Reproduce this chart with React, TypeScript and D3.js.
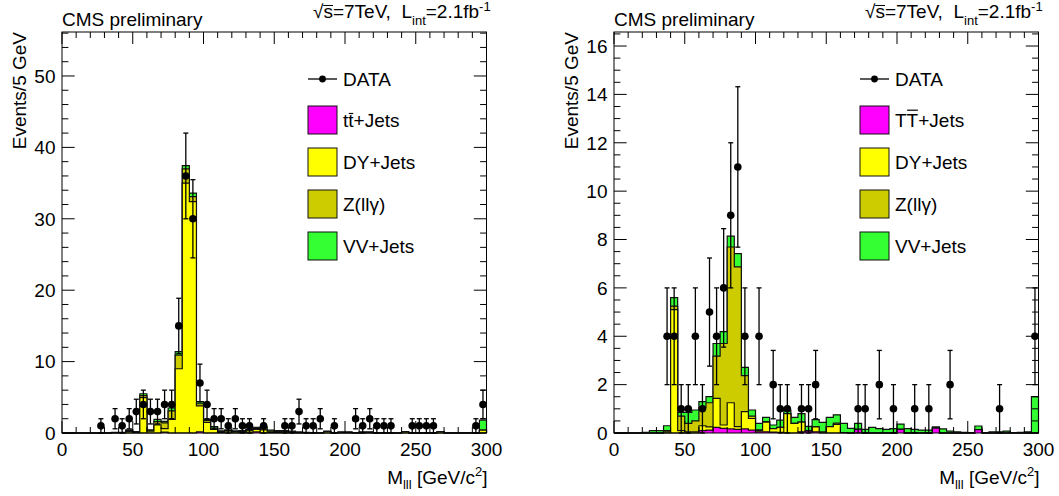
import React from 'react';
import * as d3 from 'd3';

// ---------- data ----------
const binEdges = [
  0, 5, 10, 15, 20, 25, 30, 35, 40, 45, 50, 55, 60, 65, 70, 75, 80, 85, 90, 95,
  100, 105, 110, 115, 120, 125, 130, 135, 140, 145, 150, 155, 160, 165, 170, 175, 180, 185, 190, 195,
  200, 205, 210, 215, 220, 225, 230, 235, 240, 245, 250, 255, 260, 265, 270, 275, 280, 285, 290, 295, 300,
];

const xTickLabels = [0, 50, 100, 150, 200, 250, 300];
const yTickLabelsLeft = [0, 10, 20, 30, 40, 50];
const yTickLabelsRight = [0, 2, 4, 6, 8, 10, 12, 14, 16];

const legendLabels = ['DATA', 'DY+Jets', 'Z(llγ)', 'VV+Jets'];

// Left panel
const dataLeft = [
  0, 0, 0, 0, 0, 1, 0, 2, 1, 2,
  3, 4, 3, 3, 4, 4, 15, 36, 30, 7,
  4, 2, 2, 1, 2, 1, 1, 0, 1, 0,
  0, 1, 1, 3, 1, 1, 2, 0, 1, 0,
  0, 2, 1, 2, 1, 1, 1, 0, 0, 1,
  1, 1, 1, 0, 0, 0, 0, 0, 1, 4,
];
const ttLeft = [
  0, 0, 0, 0, 0, 0, 0, 0, 0, 0,
  0, 0, 0, 0, 0.12, 0, 0, 0, 0, 0.15,
  0, 0, 0, 0, 0, 0, 0, 0.15, 0, 0,
  0, 0, 0, 0, 0, 0, 0, 0, 0, 0,
  0, 0, 0, 0, 0, 0, 0, 0, 0, 0,
  0, 0, 0, 0, 0, 0, 0, 0, 0, 0,
];
const dyLeft = [
  0, 0, 0, 0, 0, 0, 0.02, 0.05, 0.05, 0.2,
  0.1, 4.95, 0.25, 1.15, 0.5, 1.9, 9.0, 35.0, 32.4, 3.65,
  1.5, 0.5, 0.1, 0.25, 0.15, 0.1, 0.3, 0.35, 0.45, 0.1,
  0.1, 0.15, 0.1, 0.05, 0.05, 0.02, 0.02, 0.2, 0.02, 0.05,
  0.05, 0, 0.05, 0.05, 0, 0.02, 0, 0, 0.15, 0,
  0, 0.02, 0, 0.15, 0, 0.02, 0, 0.02, 0, 0.4,
];
const zllgLeft = [
  0, 0, 0, 0, 0, 0, 0, 0, 0, 0.15,
  0, 0.28, 0.05, 0.45, 0.8, 1.2, 1.9, 2.0, 0.7, 0.3,
  0.25, 0.2, 0.1, 0.1, 0.05, 0.1, 0.05, 0.1, 0.1, 0.15,
  0.1, 0.05, 0.05, 0, 0, 0, 0, 0, 0, 0.05,
  0.05, 0, 0.05, 0.05, 0, 0, 0, 0, 0, 0,
  0, 0, 0, 0, 0, 0, 0, 0, 0, 0,
];
const vvLeft = [
  0, 0, 0, 0, 0, 0, 0, 0.03, 0.05, 0.1,
  0.1, 0.27, 0.15, 0.3, 0.2, 0.4, 0.5, 0.45, 0.5, 0.3,
  0.15, 0.2, 0.1, 0.1, 0.1, 0.15, 0.15, 0.2, 0.3, 0.15,
  0.15, 0.15, 0.1, 0.1, 0.05, 0.05, 0.05, 0.05, 0.05, 0.05,
  0.05, 0.05, 0.05, 0.05, 0.05, 0.03, 0.03, 0.02, 0.03, 0.02,
  0.02, 0.02, 0.02, 0.02, 0.02, 0.02, 0.02, 0.02, 0.02, 1.4,
];

// Right panel
const dataRight = [
  0, 0, 0, 0, 0, 0, 0, 4, 4, 1,
  1, 4, 1, 5, 4, 6, 9, 11, 4, 0,
  4, 0, 2, 1, 1, 0, 1, 1, 2, 0,
  0, 0, 0, 0, 1, 1, 0, 2, 0, 1,
  0, 0, 1, 0, 1, 0, 0, 2, 0, 0,
  0, 0, 0, 0, 1, 0, 0, 0, 0, 4,
];
const ttRight = [
  0, 0, 0, 0, 0, 0, 0, 0, 0, 0,
  0, 0, 0.1, 0.12, 0.23, 0.19, 0.17, 0.15, 0.17, 0.12,
  0.05, 0.05, 0.04, 0.03, 0, 0, 0.05, 0.08, 0.05, 0,
  0, 0, 0, 0, 0.15, 0, 0, 0, 0, 0,
  0.15, 0, 0, 0, 0, 0.2, 0, 0, 0, 0,
  0, 0.14, 0, 0, 0, 0, 0, 0, 0, 0,
];
const dyRight = [
  0, 0, 0, 0, 0, 0, 0, 0.05, 5.1, 0.1,
  0.05, 0.05, 0.2, 0.13, 1.2, 0.14, 1.08, 0.11, 0.71, 0.48,
  0.05, 0.4, 0.14, 0.2, 0.8, 0.4, 0.4, 0.02, 0.2, 0.04,
  0.26, 0.36, 0.02, 0, 0, 0, 0, 0, 0, 0,
  0, 0, 0, 0, 0, 0, 0, 0, 0, 0,
  0, 0, 0, 0, 0, 0, 0, 0, 0, 0,
];
const zllgRight = [
  0, 0, 0, 0, 0, 0, 0, 0.05, 0.15, 0.6,
  0.35, 0.45, 0.75, 1.0, 1.75, 3.37, 6.44, 6.61, 1.49, 0.1,
  0.03, 0.02, 0, 0, 0, 0, 0, 0, 0, 0,
  0, 0.05, 0, 0, 0, 0, 0, 0, 0, 0,
  0, 0, 0, 0, 0, 0, 0, 0, 0, 0,
  0, 0, 0, 0, 0, 0, 0, 0, 0, 0,
];
const vvRight = [
  0, 0, 0, 0, 0.03, 0.1, 0.1, 0.2, 0.35, 0.15,
  0.45, 0.45, 0.25, 0.25, 0.52, 0.49, 0.45, 0.55, 0.34, 0.25,
  0.27, 0.18, 0.15, 0.3, 0.15, 0.25, 0.35, 0.17, 0.3, 0.4,
  0.39, 0.34, 0.38, 0.19, 0.25, 0.15, 0.23, 0.18, 0.15, 0.18,
  0.22, 0.18, 0.15, 0.12, 0.12, 0.05, 0.17, 0.08, 0.05, 0.03,
  0.02, 0.15, 0.02, 0.05, 0.05, 0.08, 0.02, 0.03, 0.05, 1.5,
];

// ---------- style ----------
const FONT = '"Liberation Sans", Arial, Helvetica, sans-serif';
const FS = 19;
const COL_TT = '#ff00ff';
const COL_DY = '#ffff00';
const COL_ZLLG = '#cccc00';
const COL_VV = '#33ff33';

type PanelProps = {
  off: number;
  yMax: number;
  yMajorLabels: number[];
  yMinorStep: number;
  data: number[];
  tt: number[];
  dy: number[];
  zllg: number[];
  vv: number[];
  ttChar: string;
};

function Panel(p: PanelProps) {
  const x0 = 62 + p.off;
  const x1 = 486.5 + p.off;
  const yT = 32;
  const yB = 433;
  const xs = d3.scaleLinear().domain([0, 300]).range([x0, x1]);
  const ys = d3.scaleLinear().domain([0, p.yMax]).range([yB, yT]);

  const c1 = p.tt;
  const c2 = c1.map((v, i) => v + p.dy[i]);
  const c3 = c2.map((v, i) => v + p.zllg[i]);
  const c4 = c3.map((v, i) => v + p.vv[i]);

  const stepPts = (vals: number[]) => {
    const pts: [number, number][] = [];
    vals.forEach((v, i) => {
      pts.push([binEdges[i], v]);
      pts.push([binEdges[i + 1], v]);
    });
    return pts;
  };
  const area = d3
    .area<[number, number]>()
    .x((d) => xs(d[0]))
    .y0(ys(0))
    .y1((d) => ys(d[1]));
  const line = d3
    .line<[number, number]>()
    .x((d) => xs(d[0]))
    .y((d) => ys(d[1]));

  const layers = [
    { vals: c4, color: COL_VV },
    { vals: c3, color: COL_ZLLG },
    { vals: c2, color: COL_DY },
    { vals: c1, color: COL_TT },
  ];

  const xMinor = d3.range(0, 300.001, 10);
  const yMinor = d3.range(0, p.yMax, p.yMinorStep);
  const TX = 12, TXm = 6, TY = 12.7, TYm = 6.4;

  const legX = 308 + p.off;
  const legTextX = 343 + p.off;
  const boxYs = [106, 148, 190, 232];
  const boxColors = [COL_TT, COL_DY, COL_ZLLG, COL_VV];
  const charW = p.ttChar === 'T' ? 0.6108 * FS : 0.2778 * FS;
  const barY = p.ttChar === 'T' ? 120 + 6.5 - 16.3 : 120 + 6.5 - 13;

  return (
    <g>
      {/* MC stack */}
      {layers.map((l, k) => {
        const pts = stepPts(l.vals);
        const outline: [number, number][] = [[0, 0], ...pts, [300, 0]];
        return (
          <g key={k}>
            <path d={area(pts) || ''} fill={l.color} stroke="none" />
            <path d={line(outline) || ''} fill="none" stroke="#111" strokeWidth={1.2} />
          </g>
        );
      })}

      {/* frame and ticks */}
      <rect x={x0} y={yT} width={x1 - x0} height={yB - yT} fill="none" stroke="#000" strokeWidth={1} />
      {xMinor.map((v) => {
        const major = v % 50 === 0;
        const len = major ? TX : TXm;
        return (
          <g key={'xt' + v}>
            <line x1={xs(v)} x2={xs(v)} y1={yB} y2={yB - len} stroke="#000" strokeWidth={1} />
            <line x1={xs(v)} x2={xs(v)} y1={yT} y2={yT + len} stroke="#000" strokeWidth={1} />
          </g>
        );
      })}
      {yMinor.map((v, k) => {
        const major = p.yMajorLabels.some((m) => Math.abs(m - v) < 1e-6);
        const len = major ? TY : TYm;
        return (
          <g key={'yt' + k}>
            <line x1={x0} x2={x0 + len} y1={ys(v)} y2={ys(v)} stroke="#000" strokeWidth={1} />
            <line x1={x1} x2={x1 - len} y1={ys(v)} y2={ys(v)} stroke="#000" strokeWidth={1} />
          </g>
        );
      })}

      {/* tick labels */}
      {xTickLabels.map((v) => (
        <text key={'xl' + v} x={xs(v)} y={456} textAnchor="middle" fontSize={FS}>
          {v}
        </text>
      ))}
      {p.yMajorLabels.map((v) => (
        <text key={'yl' + v} x={x0 - 6.5} y={ys(v) + 6.8} textAnchor="end" fontSize={FS}>
          {v}
        </text>
      ))}

      {/* axis titles */}
      <text x={x1 + 1} y={484} textAnchor="end" fontSize={FS}>
        M<tspan dy={5} fontSize={13}>lll</tspan>
        <tspan dy={-5}>{' [GeV/c'}</tspan>
        <tspan dy={-8} fontSize={13}>2</tspan>
        <tspan dy={8}>]</tspan>
      </text>
      <text transform={`translate(${26 + p.off},${yT}) rotate(-90)`} textAnchor="end" fontSize={FS}>
        Events/5 GeV
      </text>

      {/* header */}
      <text x={x0} y={26} fontSize={FS}>CMS preliminary</text>
      <text x={x0 + 251} y={18} fontSize={FS}>
        √s=7TeV,{'\u00A0\u00A0'}L
        <tspan dy={7} fontSize={13}>int</tspan>
        <tspan dy={-7}>=2.1fb</tspan>
        <tspan dy={-7} fontSize={13}>-1</tspan>
      </text>
      <line x1={x0 + 251 + 10.2} x2={x0 + 251 + 20} y1={5.5} y2={5.5} stroke="#000" strokeWidth={1} />

      {/* data */}
      {p.data.map((v, i) => {
        if (v <= 0) return null;
        const cx = xs((binEdges[i] + binEdges[i + 1]) / 2);
        const e = Math.sqrt(v);
        const yHi = ys(v + e);
        const yLo = ys(Math.max(0, v - e));
        return (
          <g key={'d' + i}>
            <line x1={cx} x2={cx} y1={yHi} y2={yLo} stroke="#000" strokeWidth={1.3} />
            <line x1={cx - 2.5} x2={cx + 2.5} y1={yHi} y2={yHi} stroke="#000" strokeWidth={1.3} />
            <line x1={cx - 2.5} x2={cx + 2.5} y1={yLo} y2={yLo} stroke="#000" strokeWidth={1.3} />
            <circle cx={cx} cy={ys(v)} r={3.8} fill="#000" />
          </g>
        );
      })}

      {/* legend */}
      <line x1={legX} x2={legX + 29} y1={79} y2={79} stroke="#000" strokeWidth={1.3} />
      <circle cx={legX + 14.5} cy={79} r={3.4} fill="#000" />
      <text x={legTextX} y={79 + 6.8} fontSize={FS}>{legendLabels[0]}</text>
      {boxYs.map((by, k) => (
        <rect key={'lb' + k} x={legX} y={by} width={29} height={28} fill={boxColors[k]} stroke="#111" strokeWidth={1} />
      ))}
      <text x={legTextX} y={boxYs[0] + 14 + 6.8} fontSize={FS}>
        {p.ttChar}
        {p.ttChar}+Jets
      </text>
      <line x1={legTextX + charW + 0.5} x2={legTextX + 2 * charW - 0.3} y1={barY} y2={barY} stroke="#000" strokeWidth={1.2} />
      {[1, 2, 3].map((k) => (
        <text key={'lt' + k} x={legTextX} y={boxYs[k] + 14 + 6.8} fontSize={FS}>
          {legendLabels[k]}
        </text>
      ))}
    </g>
  );
}

export default function App() {
  React.useEffect(() => {
    document.body.style.margin = '0';
  }, []);
  return (
    <svg
      width={1059}
      height={496}
      style={{ display: 'block', position: 'absolute', left: 0, top: 0, background: '#fff' }}
      fontFamily={FONT}
    >
      <rect width={1059} height={496} fill="#fff" />
      <Panel
        off={0}
        yMax={56.16}
        yMajorLabels={yTickLabelsLeft}
        yMinorStep={2}
        data={dataLeft}
        tt={ttLeft}
        dy={dyLeft}
        zllg={zllgLeft}
        vv={vvLeft}
        ttChar="t"
      />
      <Panel
        off={552}
        yMax={16.58}
        yMajorLabels={yTickLabelsRight}
        yMinorStep={0.5}
        data={dataRight}
        tt={ttRight}
        dy={dyRight}
        zllg={zllgRight}
        vv={vvRight}
        ttChar="T"
      />
    </svg>
  );
}
